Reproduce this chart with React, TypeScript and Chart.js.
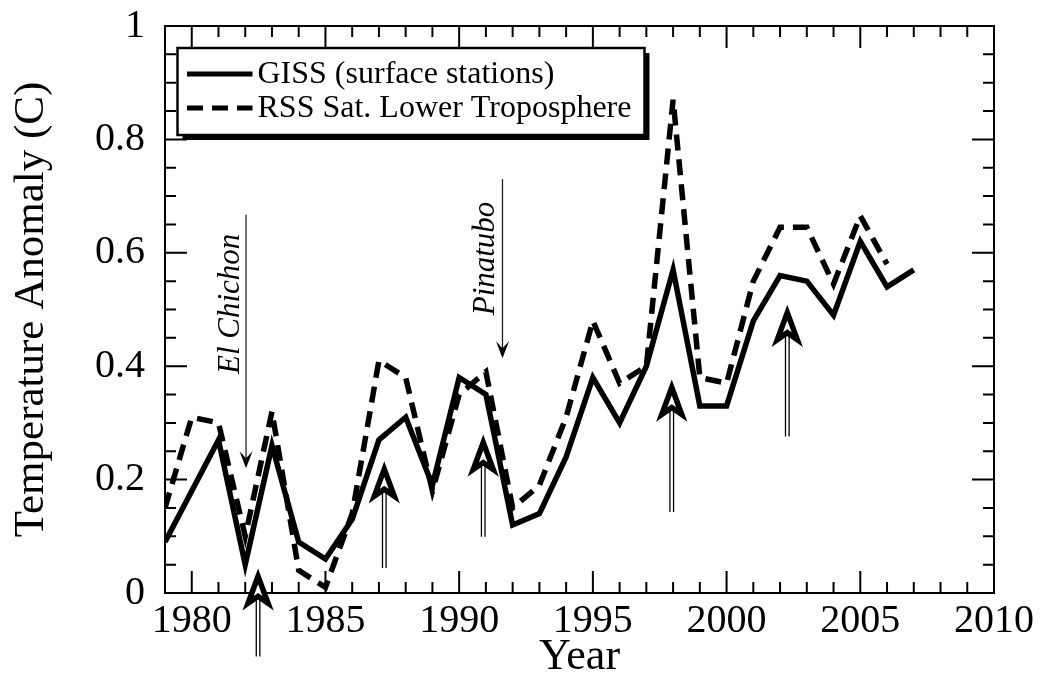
import React, { useEffect, useRef } from 'react';
import { Chart, registerables } from 'chart.js';

Chart.register(...registerables);

// ---- data ----
const years = [1979, 1980, 1981, 1982, 1983, 1984, 1985, 1986, 1987, 1988, 1989, 1990, 1991, 1992, 1993, 1994, 1995, 1996, 1997, 1998, 1999, 2000, 2001, 2002, 2003, 2004, 2005, 2006, 2007];
const gissValues = [0.09, 0.18, 0.27, 0.05, 0.26, 0.09, 0.06, 0.13, 0.27, 0.31, 0.19, 0.38, 0.35, 0.12, 0.14, 0.24, 0.38, 0.30, 0.40, 0.57, 0.33, 0.33, 0.48, 0.56, 0.55, 0.49, 0.62, 0.54, 0.57];
const rssYears = [1979, 1980, 1981, 1982, 1983, 1984, 1985, 1986, 1987, 1988, 1989, 1990, 1991, 1992, 1993, 1994, 1995, 1996, 1997, 1998, 1999, 2000, 2001, 2002, 2003, 2004, 2005, 2006];
const rssValues = [0.15, 0.31, 0.30, 0.10, 0.32, 0.04, 0.01, 0.14, 0.41, 0.38, 0.18, 0.35, 0.39, 0.15, 0.19, 0.31, 0.48, 0.37, 0.40, 0.87, 0.38, 0.37, 0.55, 0.645, 0.645, 0.545, 0.665, 0.58];

const xTickLabels = [1980, 1985, 1990, 1995, 2000, 2005, 2010];
const yTickLabels = [0, 0.2, 0.4, 0.6, 0.8, 1];

// volcano annotations (thin arrows + rotated italic labels)
const volcanoNames = ['El Chichon', 'Pinatubo'];
const volcanoYears = [1982.03, 1991.62];
const volcanoArrowTop = [0.667, 0.73];
const volcanoArrowTip = [0.22, 0.414];
const volcanoLabelX = [1981.45, 1990.98];
const volcanoLabelY = [0.51, 0.59];

// hollow "event" arrows (tip value, base value)
const eventYears = [1982.48, 1987.2, 1990.9, 1997.95, 2002.27];
const eventTips = [0.04, 0.229, 0.276, 0.373, 0.505];
const eventBases = [-0.112, 0.044, 0.099, 0.143, 0.276];

const SERIF = '"Liberation Serif", "Times New Roman", serif';

const overlayPlugin = {
  id: 'overlay',
  afterDraw(chart: any) {
    const ctx: CanvasRenderingContext2D = chart.ctx;
    const { left, right, top, bottom } = chart.chartArea;
    const xs = chart.scales.x;
    const ys = chart.scales.y;
    ctx.save();
    ctx.strokeStyle = '#000';
    ctx.lineCap = 'butt';

    // frame
    ctx.lineWidth = 2;
    ctx.strokeRect(left, top, right - left, bottom - top);

    // ticks (inside, mirrored)
    for (let yr = Math.ceil(xs.min); yr < xs.max; yr++) {
      const px = xs.getPixelForValue(yr);
      const len = yr % 5 === 0 ? 22 : 11;
      ctx.beginPath();
      ctx.moveTo(px, bottom);
      ctx.lineTo(px, bottom - len);
      ctx.moveTo(px, top);
      ctx.lineTo(px, top + len);
      ctx.stroke();
    }
    for (let i = 1; i < 20; i++) {
      const py = ys.getPixelForValue(i * 0.05);
      const len = i % 4 === 0 ? 22 : 11;
      ctx.beginPath();
      ctx.moveTo(left, py);
      ctx.lineTo(left + len, py);
      ctx.moveTo(right, py);
      ctx.lineTo(right - len, py);
      ctx.stroke();
    }

    // volcano arrows and labels
    for (let i = 0; i < volcanoNames.length; i++) {
      const px = xs.getPixelForValue(volcanoYears[i]);
      const pTop = ys.getPixelForValue(volcanoArrowTop[i]);
      const pTip = ys.getPixelForValue(volcanoArrowTip[i]);
      ctx.lineWidth = 1.3;
      ctx.strokeStyle = '#222';
      ctx.beginPath();
      ctx.moveTo(px, pTop);
      ctx.lineTo(px, pTip - 8);
      ctx.stroke();
      ctx.fillStyle = '#000';
      ctx.beginPath();
      ctx.moveTo(px, pTip);
      ctx.lineTo(px - 6.5, pTip - 17);
      ctx.lineTo(px, pTip - 10);
      ctx.lineTo(px + 6.5, pTip - 17);
      ctx.closePath();
      ctx.fill();

      const lx = xs.getPixelForValue(volcanoLabelX[i]);
      const ly = ys.getPixelForValue(volcanoLabelY[i]);
      ctx.save();
      ctx.translate(lx, ly);
      ctx.rotate(-Math.PI / 2);
      ctx.font = 'italic 31px ' + SERIF;
      ctx.textAlign = 'center';
      ctx.textBaseline = 'middle';
      ctx.fillStyle = '#000';
      ctx.fillText(volcanoNames[i], 0, 0);
      ctx.restore();
    }

    // hollow event arrows
    ctx.strokeStyle = '#000';
    for (let i = 0; i < eventYears.length; i++) {
      const px = xs.getPixelForValue(eventYears[i]);
      const tip = ys.getPixelForValue(eventTips[i]);
      const base = ys.getPixelForValue(eventBases[i]);
      ctx.lineWidth = 1.3;
      ctx.beginPath();
      ctx.moveTo(px - 1.8, tip + 26);
      ctx.lineTo(px - 1.8, base);
      ctx.moveTo(px + 1.8, tip + 26);
      ctx.lineTo(px + 1.8, base);
      ctx.stroke();
      ctx.lineWidth = 5.5;
      ctx.lineJoin = 'miter';
      ctx.miterLimit = 10;
      ctx.beginPath();
      ctx.moveTo(px, tip + 6);
      ctx.lineTo(px - 10, tip + 33);
      ctx.lineTo(px, tip + 26);
      ctx.lineTo(px + 10, tip + 33);
      ctx.closePath();
      ctx.fillStyle = '#fff';
      ctx.fill();
      ctx.stroke();
    }

    // legend box with drop shadow
    const bx = left + 12.5;
    const by = top + 22;
    const bw = 467;
    const bh = 87;
    ctx.fillStyle = '#000';
    ctx.fillRect(bx + 5, by + 5, bw, bh);
    ctx.fillStyle = '#fff';
    ctx.fillRect(bx, by, bw, bh);
    ctx.lineWidth = 2.5;
    ctx.strokeRect(bx, by, bw, bh);

    const rows = [by + 27, by + 61];
    chart.data.datasets.forEach((ds: any, i: number) => {
      const ry = rows[i];
      ctx.lineWidth = 5;
      ctx.setLineDash(ds.borderDash || []);
      ctx.beginPath();
      ctx.moveTo(bx + 9.5, ry - 1);
      ctx.lineTo(bx + 75, ry - 1);
      ctx.stroke();
      ctx.setLineDash([]);
      ctx.fillStyle = '#000';
      ctx.font = '32px ' + SERIF;
      ctx.textAlign = 'left';
      ctx.textBaseline = 'middle';
      ctx.fillText(ds.label, bx + 80, ry);
    });

    ctx.restore();
  },
};

export default function App() {
  const canvasRef = useRef<HTMLCanvasElement | null>(null);

  useEffect(() => {
    const canvas = canvasRef.current;
    if (!canvas) return;
    Chart.defaults.font.family = SERIF;
    Chart.defaults.color = '#000';

    const chart = new Chart(canvas, {
      type: 'line',
      data: {
        datasets: [
          {
            label: 'GISS (surface stations)',
            data: years.map((x, i) => ({ x, y: gissValues[i] })),
            borderColor: '#000',
            borderWidth: 5.5,
            pointRadius: 0,
            tension: 0,
            borderJoinStyle: 'miter',
            fill: false,
          },
          {
            label: 'RSS Sat. Lower Troposphere',
            data: rssYears.map((x, i) => ({ x, y: rssValues[i] })),
            borderColor: '#000',
            borderWidth: 5.5,
            borderDash: [16, 9],
            pointRadius: 0,
            tension: 0,
            borderJoinStyle: 'miter',
            fill: false,
          },
        ],
      },
      options: {
        responsive: false,
        animation: false,
        events: [],
        layout: { padding: { top: 26, right: 48, left: 0, bottom: 0 } },
        plugins: {
          legend: { display: false },
          tooltip: { enabled: false },
        },
        scales: {
          x: {
            type: 'linear',
            min: 1979,
            max: 2010,
            afterBuildTicks: (scale: any) => {
              scale.ticks = xTickLabels.map((v) => ({ value: v }));
            },
            afterFit: (scale: any) => {
              scale.height = 93;
              scale.paddingLeft = 0;
              scale.paddingRight = 0;
              scale.paddingTop = 0;
              scale.paddingBottom = 0;
            },
            grid: { display: false, drawTicks: false },
            border: { display: false },
            ticks: {
              font: { size: 40, family: SERIF },
              color: '#000',
              padding: 4,
              maxRotation: 0,
              autoSkip: false,
              callback: (v: any) => String(v),
            },
            title: {
              display: true,
              text: 'Year',
              font: { size: 44, family: SERIF },
              color: '#000',
              padding: { top: 0, bottom: 2 },
            },
          },
          y: {
            type: 'linear',
            min: 0,
            max: 1,
            afterBuildTicks: (scale: any) => {
              scale.ticks = yTickLabels.map((v) => ({ value: v }));
            },
            afterFit: (scale: any) => {
              scale.width = 165;
              scale.paddingLeft = 0;
              scale.paddingRight = 0;
              scale.paddingTop = 0;
              scale.paddingBottom = 0;
            },
            grid: { display: false, drawTicks: false },
            border: { display: false },
            ticks: {
              font: { size: 40, family: SERIF },
              color: '#000',
              padding: 20,
              autoSkip: false,
              callback: (v: any) => String(Math.round(Number(v) * 10) / 10),
            },
            title: {
              display: true,
              text: 'Temperature Anomaly (C)',
              font: { size: 43, family: SERIF },
              color: '#000',
              padding: { top: 6, bottom: 0 },
            },
          },
        },
      },
      plugins: [overlayPlugin],
    } as any);

    return () => {
      chart.destroy();
    };
  }, []);

  return (
    <div style={{ position: 'absolute', left: 0, top: 0, width: 1042, height: 686, background: '#fff' }}>
      <canvas ref={canvasRef} width={1042} height={686} style={{ width: 1042, height: 686, display: 'block' }} />
    </div>
  );
}
